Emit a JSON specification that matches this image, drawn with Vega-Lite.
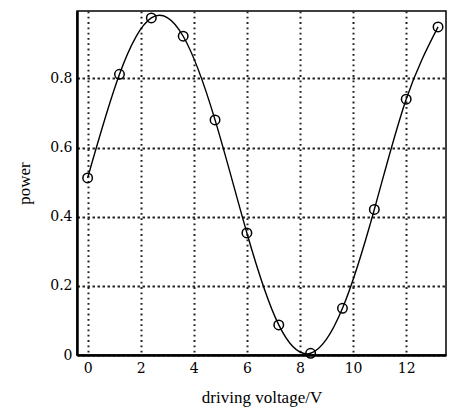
{
  "$schema": "https://vega.github.io/schema/vega-lite/v6.json",
  "autosize": "none",
  "width": 369,
  "height": 344,
  "padding": {"left": 77, "top": 11, "right": 3, "bottom": 59},
  "background": "white",
  "config": {
    "font": "Liberation Serif",
    "view": {"stroke": "black", "strokeWidth": 1.5}
  },
  "data": {
    "values": [
      {"voltage": 0.0, "power": 0.512},
      {"voltage": 1.2, "power": 0.812},
      {"voltage": 2.4, "power": 0.975},
      {"voltage": 3.6, "power": 0.922},
      {"voltage": 4.8, "power": 0.68},
      {"voltage": 6.0, "power": 0.353},
      {"voltage": 7.2, "power": 0.087},
      {"voltage": 8.4, "power": 0.005},
      {"voltage": 9.6, "power": 0.135},
      {"voltage": 10.8, "power": 0.421},
      {"voltage": 12.0, "power": 0.74},
      {"voltage": 13.2, "power": 0.949}
    ]
  },
  "encoding": {
    "x": {
      "field": "voltage",
      "type": "quantitative",
      "scale": {"domain": [-0.4, 13.5], "nice": false, "zero": false},
      "axis": {
        "values": [0, 2, 4, 6, 8, 10, 12],
        "title": "driving voltage/V",
        "titleFont": "Liberation Serif",
        "titleFontSize": 17,
        "titleFontWeight": "normal",
        "titleColor": "black",
        "titlePadding": 14,
        "labelFont": "DejaVu Serif",
        "labelFontSize": 14,
        "labelColor": "black",
        "labelPadding": 6,
        "ticks": false,
        "domainColor": "black",
        "domainWidth": 2.5,
        "grid": true,
        "gridColor": "#222222",
        "gridWidth": 2,
        "gridDash": [1.8, 3.5]
      }
    },
    "y": {
      "field": "power",
      "type": "quantitative",
      "scale": {"domain": [0, 0.995], "nice": false},
      "axis": {
        "values": [0, 0.2, 0.4, 0.6, 0.8],
        "labelExpr": "datum.value == 0 ? '0' : format(datum.value, '.1f')",
        "title": "power",
        "titleFont": "Liberation Serif",
        "titleFontSize": 17,
        "titleFontWeight": "normal",
        "titleColor": "black",
        "titlePadding": 16,
        "labelFont": "DejaVu Serif",
        "labelFontSize": 14,
        "labelColor": "black",
        "labelPadding": 5,
        "ticks": false,
        "domainColor": "black",
        "domainWidth": 2.5,
        "grid": true,
        "gridColor": "#222222",
        "gridWidth": 1.8,
        "gridDash": [2.5, 2.5]
      }
    }
  },
  "layer": [
    {
      "mark": {"type": "line", "interpolate": "natural", "color": "black", "strokeWidth": 1.4}
    },
    {
      "mark": {"type": "point", "shape": "circle", "filled": false, "color": "black", "size": 90, "strokeWidth": 1.5, "opacity": 1}
    }
  ]
}
